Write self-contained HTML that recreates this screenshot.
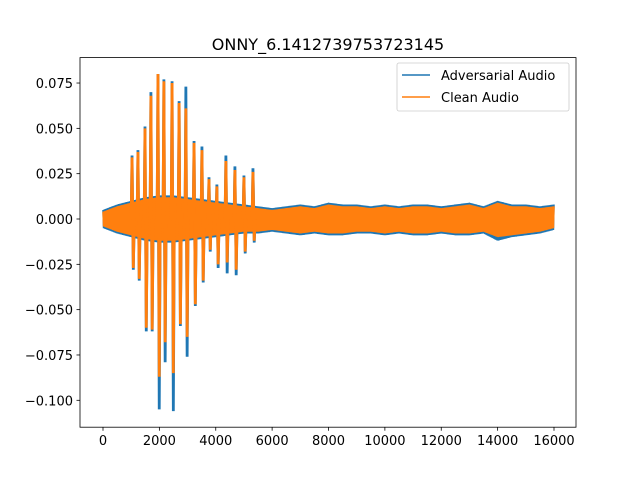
<!DOCTYPE html>
<html><head><meta charset="utf-8"><style>
body{margin:0;background:#fff}
svg text{font-family:"DejaVu Sans","Liberation Sans",sans-serif;fill:#000}
</style></head><body>
<svg id="chart" width="640" height="480" viewBox="0 0 640 480" xmlns="http://www.w3.org/2000/svg">
<rect width="640" height="480" fill="#fff"/>
<text x="328" y="50" font-size="16" text-anchor="middle">ONNY_6.1412739753723145</text>
<g id="plot"></g>
<rect x="80" y="57.6" width="496" height="369.6" fill="none" stroke="#000" stroke-width="0.8"/>
<g id="axes"></g>
<g>
<rect x="397" y="63" width="172" height="48" rx="2" fill="#fff" fill-opacity="0.8" stroke="#ccc" stroke-width="0.8"/>
<line x1="402" y1="75" x2="430" y2="75" stroke="#1f77b4" stroke-width="1.5"/>
<text x="441" y="80" font-size="13">Adversarial Audio</text>
<line x1="402" y1="97" x2="430" y2="97" stroke="#ff7f0e" stroke-width="1.5"/>
<text x="441" y="102" font-size="13">Clean Audio</text>
</g>
</svg>
<script>
// envelope sample positions (every 500 samples)
const envPos = [0,500,1000,1500,2000,2500,3000,3500,4000,4500,5000,5500,6000,6500,7000,7500,8000,8500,9000,9500,10000,10500,11000,11500,12000,12500,13000,13500,14000,14500,15000,15500,16000];
const advUpper = [0.005,0.008,0.010,0.012,0.013,0.013,0.012,0.011,0.010,0.009,0.008,0.007,0.006,0.007,0.008,0.007,0.009,0.008,0.008,0.007,0.008,0.007,0.008,0.008,0.007,0.008,0.009,0.007,0.010,0.008,0.008,0.007,0.008];
const advLower = [-0.005,-0.008,-0.010,-0.012,-0.013,-0.013,-0.012,-0.011,-0.010,-0.009,-0.008,-0.008,-0.007,-0.008,-0.009,-0.008,-0.009,-0.009,-0.008,-0.008,-0.009,-0.008,-0.009,-0.009,-0.008,-0.009,-0.009,-0.008,-0.012,-0.010,-0.009,-0.008,-0.006];
const cleanUpper = [0.004,0.007,0.009,0.011,0.012,0.012,0.011,0.010,0.009,0.008,0.007,0.006,0.005,0.006,0.007,0.006,0.008,0.007,0.007,0.006,0.007,0.006,0.007,0.007,0.006,0.007,0.008,0.006,0.009,0.007,0.007,0.006,0.007];
const cleanLower = [-0.004,-0.007,-0.009,-0.011,-0.012,-0.012,-0.011,-0.010,-0.009,-0.008,-0.007,-0.007,-0.006,-0.007,-0.008,-0.007,-0.008,-0.008,-0.007,-0.007,-0.008,-0.007,-0.008,-0.008,-0.007,-0.008,-0.008,-0.007,-0.010,-0.009,-0.008,-0.007,-0.005];
// prominent spikes
const spikePos = [1030,1240,1490,1700,1950,2160,2450,2700,2940,3230,3510,3760,4040,4360,4680,5000,5320];
const advSpikeTop = [0.035,0.038,0.051,0.070,0.080,0.077,0.076,0.065,0.073,0.043,0.040,0.023,0.019,0.035,0.029,0.024,0.028];
const advSpikeBot = [-0.028,-0.034,-0.062,-0.062,-0.105,-0.079,-0.106,-0.059,-0.076,-0.048,-0.035,-0.018,-0.027,-0.030,-0.031,-0.019,-0.013];
const cleanSpikeTop = [0.034,0.037,0.050,0.068,0.080,0.076,0.075,0.064,0.061,0.042,0.038,0.022,0.018,0.032,0.027,0.023,0.026];
const cleanSpikeBot = [-0.027,-0.033,-0.060,-0.061,-0.087,-0.068,-0.085,-0.058,-0.065,-0.047,-0.034,-0.017,-0.025,-0.024,-0.028,-0.018,-0.012];
const xTicks = [0,2000,4000,6000,8000,10000,12000,14000,16000];
const yTicks = [0.075,0.050,0.025,0.000,-0.025,-0.050,-0.075,-0.100];

const NS="http://www.w3.org/2000/svg";
const X = v => 103 + v/16000*451;
const Y = v => 219 - v*1813;
function interp(arr,s){
  const i=Math.min(Math.floor(s/500),envPos.length-2);
  const t=(s-envPos[i])/500;
  return arr[i]*(1-t)+arr[i+1]*t;
}
const plot=document.getElementById('plot');
function series(up,lo,sTop,sBot,color,name){
  const g=document.createElementNS(NS,'g');
  
  
  let pts=[];
  for(let s=0,k=0;s<=16000;s+=20,k++){
    const v=(k%2===0)?interp(up,s):interp(lo,s);
    pts.push(X(s).toFixed(2)+','+Y(v).toFixed(2));
  }
  const pl=document.createElementNS(NS,'polyline');
  
  
  pl.setAttribute('points',pts.join(' '));
  pl.setAttribute('fill','none');pl.setAttribute('stroke',color);pl.setAttribute('stroke-width','1.5');
  g.appendChild(pl);
  spikePos.forEach((p,i)=>{
    const l=document.createElementNS(NS,'polyline');
    
    
    l.setAttribute('points',X(p-30)+','+Y(0)+' '+X(p)+','+Y(sTop[i])+' '+X(p+45)+','+Y(sBot[i])+' '+X(p+80)+','+Y(0));
    l.setAttribute('fill','none');l.setAttribute('stroke',color);l.setAttribute('stroke-width','2.8');
    g.appendChild(l);
  });
  plot.appendChild(g);
}
series(advUpper,advLower,advSpikeTop,advSpikeBot,'#1f77b4','adversarial-audio-series');
series(cleanUpper,cleanLower,cleanSpikeTop,cleanSpikeBot,'#ff7f0e','clean-audio-series');

const axes=document.getElementById('axes');
xTicks.forEach(t=>{
  const l=document.createElementNS(NS,'line');
  
  
  l.setAttribute('x1',X(t));l.setAttribute('x2',X(t));l.setAttribute('y1',427.2);l.setAttribute('y2',430.7);
  l.setAttribute('stroke','#000');l.setAttribute('stroke-width','0.8');axes.appendChild(l);
  const tx=document.createElementNS(NS,'text');
  
  
  tx.setAttribute('x',X(t));tx.setAttribute('y',445);tx.setAttribute('font-size','13');tx.setAttribute('text-anchor','middle');
  tx.textContent=t;axes.appendChild(tx);
});
yTicks.forEach(t=>{
  const l=document.createElementNS(NS,'line');
  
  
  l.setAttribute('x1',76.5);l.setAttribute('x2',80);l.setAttribute('y1',Y(t));l.setAttribute('y2',Y(t));
  l.setAttribute('stroke','#000');l.setAttribute('stroke-width','0.8');axes.appendChild(l);
  const tx=document.createElementNS(NS,'text');
  
  
  tx.setAttribute('x',73);tx.setAttribute('y',Y(t)+5);tx.setAttribute('font-size','13');tx.setAttribute('text-anchor','end');
  tx.textContent=(t<0?'\u2212':'')+Math.abs(t).toFixed(3);axes.appendChild(tx);
});
</script>
</body></html>
